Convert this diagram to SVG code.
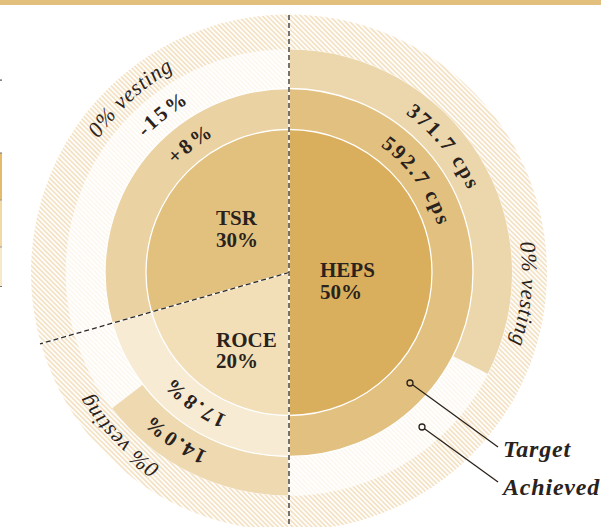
<svg xmlns="http://www.w3.org/2000/svg" width="601" height="527" viewBox="0 0 601 527">
<style>
.lbl{font-family:"Liberation Serif","Times New Roman",serif;font-weight:bold;fill:#2a221c;font-size:21px}
.ring{font-family:"Liberation Serif","Times New Roman",serif;font-weight:bold;fill:#2a221c;font-size:21px;letter-spacing:2.2px}
.vest{font-family:"Liberation Serif","Times New Roman",serif;font-style:italic;fill:#2a221c;font-size:22px;letter-spacing:0.6px}
.key{font-family:"Liberation Serif","Times New Roman",serif;font-style:italic;font-weight:bold;fill:#2a221c;font-size:24px;letter-spacing:0.8px}
.sep{fill:none;stroke:#ffffff;stroke-width:1.3}
.dash{stroke:#2e2a26;stroke-width:1.3;stroke-dasharray:5 3;fill:none}
.under{stroke:#ffffff;stroke-width:1.6;fill:none}
.lead{stroke:#2a221c;stroke-width:1.3;fill:none}
</style>
<defs>
<pattern id="hatch" width="3.4" height="3.4" patternUnits="userSpaceOnUse" patternTransform="rotate(-45)">
<rect width="1.8" height="3.4" fill="#f4e2c5"/>
</pattern>
<pattern id="faint" width="3.4" height="3.4" patternUnits="userSpaceOnUse" patternTransform="rotate(-45)">
<rect width="1.7" height="3.4" fill="#fcf7ef"/>
</pattern>
<path id="p233" d="M289,39.5 A233,233 0 1 1 289,505.5 A233,233 0 1 1 289,39.5"/>
<path id="p197" d="M289,75.5 A197,197 0 1 1 289,469.5 A197,197 0 1 1 289,75.5"/>
<path id="p156" d="M289,116.5 A156,156 0 1 1 289,428.5 A156,156 0 1 1 289,116.5"/>
</defs>
<rect width="601" height="527" fill="#ffffff"/>
<rect x="0" y="0" width="601" height="5" fill="#e2bf7c"/>
<g id="edge-fragments">
<rect x="0" y="79.5" width="2" height="1.2" fill="#555"/>
<rect x="0" y="153" width="2" height="47" fill="#e3bb6a"/>
<rect x="0" y="200" width="2" height="47" fill="#f0d9a4"/>
<rect x="0" y="247" width="2" height="40" fill="#f6e8c8"/>
<rect x="0" y="152.5" width="2" height="1" fill="#777"/>
<rect x="0" y="199.5" width="2" height="1" fill="#999"/>
<rect x="0" y="246.5" width="2" height="1" fill="#999"/>
<rect x="0" y="286" width="2" height="1" fill="#777"/>
</g>
<g id="bands">
<circle cx="289" cy="272.5" r="240.5" fill="none" stroke="url(#hatch)" stroke-width="35"/>
<circle cx="289" cy="272.5" r="203.5" fill="none" stroke="url(#faint)" stroke-width="40"/>
</g>
<g id="node-heps">
<path d="M289,49.5 A223,223 0 0 1 487.7,373.7 L452.9,356 A184,184 0 0 0 289,88.5 Z" fill="#ecd7ac"/>
<path d="M289,88.5 A184,184 0 0 1 289,456.5 L289,415.5 A143,143 0 0 0 289,129.5 Z" fill="#e2c07f"/>
<path d="M289,129.5 A143,143 0 0 1 289,415.5 Z" fill="#d9ae5c"/>
<text class="lbl" x="320" y="277">HEPS</text>
<text class="lbl" x="320" y="299">50%</text>
</g>
<g id="node-tsr">
<path d="M151.5,311.9 L112.1,323.2 A184,184 0 0 1 289,88.5 L289,129.5 A143,143 0 0 0 151.5,311.9 Z" fill="#ebd2a2"/>
<path d="M289,272.5 L151.5,311.9 A143,143 0 0 1 289,129.5 Z" fill="#e2c17f"/>
<text class="lbl" x="216" y="225">TSR</text>
<text class="lbl" x="216" y="247">30%</text>
</g>
<g id="node-roce">
<path d="M289,456.5 L289,495.5 A223,223 0 0 1 112.1,408.3 L143,384.5 A184,184 0 0 0 289,456.5 Z" fill="#eed9b0"/>
<path d="M289,415.5 L289,456.5 A184,184 0 0 1 112.1,323.2 L151.5,311.9 A143,143 0 0 0 289,415.5 Z" fill="#f7ebd3"/>
<path d="M289,272.5 L289,415.5 A143,143 0 0 1 151.5,311.9 Z" fill="#f2dfb8"/>
<text class="lbl" x="216" y="347">ROCE</text>
<text class="lbl" x="216" y="368">20%</text>
</g>
<g id="separators">
<circle class="sep" cx="289" cy="272.5" r="143"/>
<circle class="sep" cx="289" cy="272.5" r="184"/>
</g>
<g id="ring-labels">
<text class="ring" text-anchor="middle"><textPath href="#p197" startOffset="1105.4">-15%</textPath></text>
<text class="ring" text-anchor="middle"><textPath href="#p156" startOffset="878.1">+8%</textPath></text>
<text class="ring" text-anchor="middle"><textPath href="#p197" startOffset="175.4">371.7 cps</textPath></text>
<text class="ring" text-anchor="middle"><textPath href="#p156" startOffset="148.4">592.7 cps</textPath></text>
<text class="ring" text-anchor="middle"><textPath href="#p197" startOffset="736.8">14.0%</textPath></text>
<text class="ring" text-anchor="middle"><textPath href="#p156" startOffset="587.6">17.8%</textPath></text>
<text class="vest" text-anchor="middle"><textPath href="#p233" startOffset="1291.6">0% vesting</textPath></text>
<text class="vest" text-anchor="middle"><textPath href="#p233" startOffset="387.1">0% vesting</textPath></text>
<text class="vest" text-anchor="middle"><textPath href="#p233" startOffset="919.5">0% vesting</textPath></text>
</g>
<g id="connectors">
<line class="under" x1="289" y1="15" x2="289" y2="527"/>
<line class="dash" x1="289" y1="15" x2="289" y2="527"/>
<line class="under" x1="289" y1="272.5" x2="40" y2="343.9"/>
<line class="dash" x1="289" y1="272.5" x2="40" y2="343.9"/>
<circle class="lead" cx="410" cy="383" r="3"/>
<line class="lead" x1="412.5" y1="384.8" x2="498" y2="447"/>
<circle class="lead" cx="422" cy="427" r="3"/>
<line class="lead" x1="424.5" y1="428.8" x2="498" y2="482"/>
</g>
<g id="key">
<text class="key" x="503" y="457">Target</text>
<text class="key" x="503" y="495">Achieved</text>
</g>
</svg>
